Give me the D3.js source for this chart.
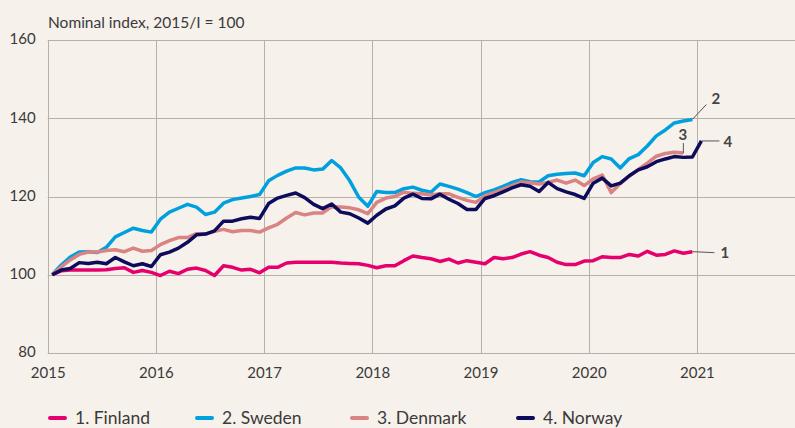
<!DOCTYPE html>
<html>
<head>
<meta charset="utf-8">
<script src="https://cdn.jsdelivr.net/npm/d3@7"></script>
<style>
  html, body { margin: 0; padding: 0; background: #f7f1eb; }
  svg { display: block; font-family: Lato, "Open Sans", sans-serif; }
  .tick text { fill: #3a3a3a; }
</style>
</head>
<body>
<svg id="chart" width="795" height="428"></svg>
<script>
// monthly index values, first point = Jan 2015
const finland = [
  100, 101, 101.2, 101.2, 101.2, 101.2, 101.3, 101.6, 101.8, 100.6, 101.1, 100.6,
  99.8, 100.9, 100.3, 101.4, 101.7, 101.1, 99.8, 102.3, 101.9, 101.2, 101.4, 100.5,
  101.9, 101.9, 103, 103.2, 103.2, 103.2, 103.2, 103.2, 103, 102.9, 102.8, 102.4,
  101.8, 102.3, 102.3, 103.6, 104.8, 104.4, 104.1, 103.4, 104, 103, 103.6, 103.2,
  102.8, 104.4, 104.1, 104.4, 105.3, 105.9, 105, 104.4, 103.2, 102.6, 102.6, 103.5,
  103.6, 104.6, 104.4, 104.4, 105.2, 104.8, 106, 105, 105.2, 106.1, 105.5, 105.9
];
const sweden = [
  100, 102.5, 104.5, 105.8, 105.9, 105.7, 107, 109.7, 110.8, 111.9, 111.3, 110.9,
  114.2, 116, 117, 118, 117.3, 115.4, 116, 118.3, 119.2, 119.6, 120, 120.5,
  124, 125.4, 126.5, 127.3, 127.3, 126.8, 127, 129.2, 127.3, 124, 119.8, 117.5,
  121.3, 121, 121, 122, 122.4, 121.6, 121.1, 123.2, 122.6, 121.9, 121, 120,
  121, 121.7, 122.6, 123.6, 124.3, 123.8, 123.7, 125.3, 125.7, 125.9, 126, 125.3,
  128.7, 130.2, 129.6, 127.3, 129.7, 130.7, 132.9, 135.5, 137, 138.8, 139.3, 139.7
];
const denmark = [
  100, 102, 103.8, 105.2, 105.8, 105.8, 106.2, 106.4, 105.9, 106.8, 106, 106.2,
  107.7, 108.7, 109.5, 109.5, 110.5, 110.4, 111.1, 111.6, 111, 111.3, 111.3, 110.9,
  112, 112.9, 114.5, 115.9, 115.3, 115.8, 115.8, 117.4, 117.3, 117.1, 116.6, 115.6,
  118.5, 119.6, 120, 121.1, 120.8, 120.7, 120.4, 120.7, 120.7, 119.8, 119, 118.5,
  120.2, 121, 121.9, 122.8, 123.7, 123.5, 123.2, 123.6, 124.2, 123.4, 124.2, 122.8,
  124.5, 125.5, 121, 123.3, 125.2, 126.9, 128.5, 130.3, 131, 131.3, 131.1
];
const norway = [
  100, 101.2, 101.6, 103.1, 102.9, 103.2, 102.8, 104.4, 103.3, 102.3, 102.8, 102.1,
  105.1, 105.8, 106.8, 108.3, 110.2, 110.4, 111.2, 113.7, 113.7, 114.3, 114.7, 114.4,
  118.2, 119.6, 120.3, 120.9, 119.7, 118, 116.9, 118.1, 116, 115.6, 114.5, 113.2,
  115.2, 116.8, 117.6, 119.6, 120.6, 119.5, 119.4, 120.6, 119.3, 118.2, 116.7, 116.7,
  119.5, 120.2, 121.2, 122.2, 123, 122.6, 121.3, 123.6, 122, 121.2, 120.5, 119.5,
  123.4, 124.7, 122.7, 123.4, 125.3, 126.8, 127.6, 128.9, 129.6, 130.2, 130, 130.1,
  134.2
];

const yearTicks = [2015, 2016, 2017, 2018, 2019, 2020, 2021];
const valueTicks = [80, 100, 120, 140, 160];

const series = [
  { num: '1', name: 'Finland', values: finland, color: '#e5006d' },
  { num: '2', name: 'Sweden', values: sweden, color: '#00a0df' },
  { num: '3', name: 'Denmark', values: denmark, color: '#d98382' },
  { num: '4', name: 'Norway', values: norway, color: '#0c0b5c' },
];

const svg = d3.select('#chart');
const plot = { left: 47.7, right: 795, top: 40, bottom: 353 };

const x = d3.scaleLinear().domain([2015, 2015 + (plot.right - plot.left) / 108.2]).range([plot.left, plot.right]);
const y = d3.scaleLinear().domain([80, 160]).range([plot.bottom, plot.top]);

// grid
const grid = svg.append('g').attr('stroke', '#b7b0a9').attr('stroke-width', 1);
grid.selectAll('line.h').data(valueTicks).join('line')
  .attr('x1', plot.left).attr('x2', plot.right)
  .attr('y1', d => Math.round(y(d)) + 0.5).attr('y2', d => Math.round(y(d)) + 0.5);
grid.selectAll('line.v').data(yearTicks).join('line')
  .attr('x1', d => Math.round(x(d)) + 0.5).attr('x2', d => Math.round(x(d)) + 0.5)
  .attr('y1', plot.top).attr('y2', plot.bottom);

// axes (labels only)
const xAxis = svg.append('g')
  .attr('transform', `translate(0,${plot.bottom})`)
  .call(d3.axisBottom(x).tickValues(yearTicks).tickFormat(d3.format('d')).tickSize(0).tickPadding(14));
const yAxis = svg.append('g')
  .attr('transform', `translate(${plot.left},0)`)
  .call(d3.axisLeft(y).tickValues(valueTicks).tickSize(0).tickPadding(12));
[xAxis, yAxis].forEach(a => {
  a.select('.domain').remove();
  a.selectAll('text').attr('font-size', 15).attr('font-family', 'Lato, sans-serif');
});
yAxis.selectAll('text').attr('dy', '0.25em');

svg.append('text')
  .attr('x', 48).attr('y', 28)
  .attr('font-size', 15.5).attr('fill', '#3a3a3a')
  .text('Nominal index, 2015/I = 100');

// lines, points at mid-month
const line = d3.line()
  .x((d, i) => x(2015 + (i + 0.5) / 12))
  .y(d => y(d));

svg.append('g').selectAll('path').data(series).join('path')
  .attr('fill', 'none')
  .attr('stroke', d => d.color)
  .attr('stroke-width', 3.5)
  .attr('stroke-linejoin', 'round')
  .attr('d', d => line(d.values));

// end labels with leader lines
const endPt = s => {
  const i = s.values.length - 1;
  return [x(2015 + (i + 0.5) / 12), y(s.values[i])];
};
const labelOffsets = {
  '1': { lx: 22, ly: 1, tx: 28, ty: 6 },
  '2': { lx: 14, ly: -15, tx: 19, ty: -15 },
  '3': { lx: 0, ly: -10, tx: -5, ty: -13 },
  '4': { lx: 18, ly: 0, tx: 22, ty: 6 },
};
const lab = svg.append('g');
series.forEach(s => {
  const [ex, ey] = endPt(s);
  const o = labelOffsets[s.num];
  lab.append('line')
    .attr('x1', ex).attr('y1', ey)
    .attr('x2', ex + o.lx).attr('y2', ey + o.ly)
    .attr('stroke', '#555').attr('stroke-width', 1);
  lab.append('text')
    .attr('x', ex + o.tx).attr('y', ey + o.ty)
    .attr('font-size', 15).attr('font-weight', 'bold').attr('fill', '#444')
    .text(s.num);
});

// legend
const legendX = [50, 197, 352, 518];
const legend = svg.append('g').selectAll('g').data(series).join('g')
  .attr('transform', (d, i) => `translate(${legendX[i]},418)`);
legend.append('line')
  .attr('x1', 0).attr('x2', 15)
  .attr('stroke', d => d.color).attr('stroke-width', 4).attr('stroke-linecap', 'round');
legend.append('text')
  .attr('x', 25).attr('y', 6)
  .attr('font-size', 17.5).attr('fill', '#3a3a3a')
  .text(d => `${d.num}. ${d.name}`);
</script>
</body>
</html>
